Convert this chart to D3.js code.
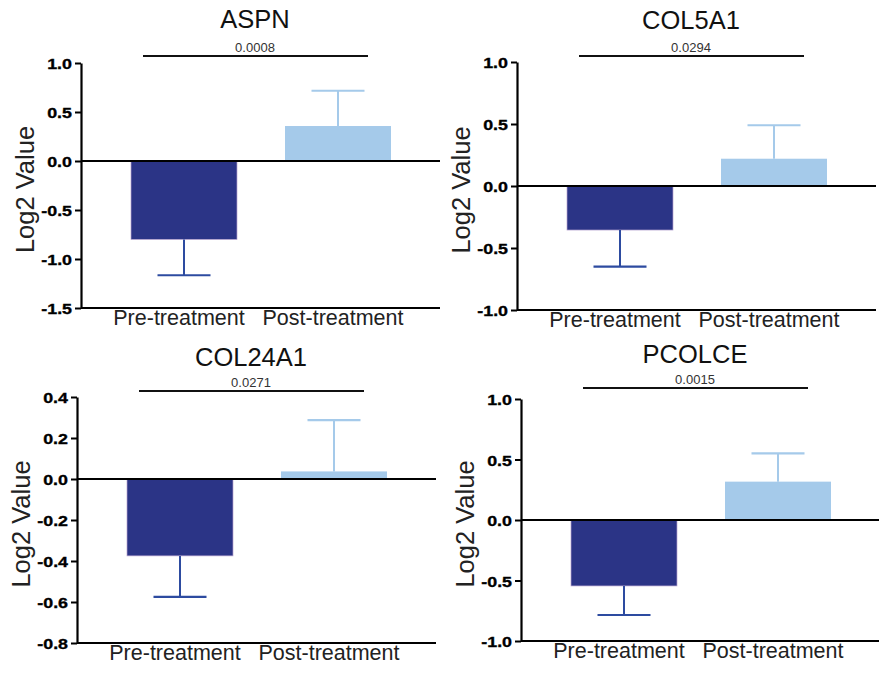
<!DOCTYPE html>
<html>
<head>
<meta charset="utf-8">
<script src="https://cdn.jsdelivr.net/npm/d3@7"></script>
<style>
  html, body { margin: 0; padding: 0; background: #fff; }
  svg { display: block; }
  text { font-family: "Liberation Sans", Arial, Helvetica, sans-serif; }
</style>
</head>
<body>
<script>
// Gene expression (log2) before and after treatment, mean with one-sided error bars
const genes = ["ASPN", "COL5A1", "COL24A1", "PCOLCE"];
const groups = ["Pre-treatment", "Post-treatment"];
const meanPre  = [-0.80, -0.355, -0.375, -0.545];
const meanPost = [0.357, 0.22, 0.037, 0.317];
const errPre   = [0.366, 0.295, 0.20, 0.24];
const errPost  = [0.36, 0.27, 0.25, 0.233];
const pValues  = ["0.0008", "0.0294", "0.0271", "0.0015"];
const yDomains = [[-1.5, 1.0], [-1.0, 1.0], [-0.8, 0.4], [-1.0, 1.0]];
const yTicks = [
  [-1.5, -1.0, -0.5, 0.0, 0.5, 1.0],
  [-1.0, -0.5, 0.0, 0.5, 1.0],
  [-0.8, -0.6, -0.4, -0.2, 0.0, 0.2, 0.4],
  [-1.0, -0.5, 0.0, 0.5, 1.0]
];

// Panel placement: y-axis x, top/bottom of value range, title baseline, bracket y
const layout = [
  { x0: 81,  top: 63,  bottom: 308, titleY: 28,  sigY: 56 },
  { x0: 517, top: 62,  bottom: 310, titleY: 29,  sigY: 56 },
  { x0: 77,  top: 397, bottom: 643, titleY: 366, sigY: 391 },
  { x0: 521, top: 399, bottom: 641, titleY: 363, sigY: 388 }
];

const fillColors = ["#2B3486", "#A5CAEA"];
const errColors  = ["#2D4BA0", "#A5CAEA"];

const fmt = d3.formatLocale({ decimal: ".", thousands: ",", grouping: [3], currency: ["", ""], minus: "-" }).format(".1f");

const svg = d3.select("body").append("svg")
  .attr("width", 879).attr("height", 673);

genes.forEach((gene, i) => {
  const L = layout[i];
  const g = svg.append("g");
  const y = d3.scaleLinear().domain(yDomains[i]).range([L.bottom, L.top]);
  const x = d3.scaleBand().domain(groups)
    .range([L.x0 + 50, L.x0 + 310]).paddingInner(48 / 154).paddingOuter(0);
  const right = L.x0 + 359;

  const rows = groups.map((grp, k) => ({
    grp,
    mean: k === 0 ? meanPre[i] : meanPost[i],
    err: k === 0 ? errPre[i] : errPost[i],
    k
  }));

  // bars
  g.selectAll("rect.bar").data(rows).join("rect")
    .attr("class", "bar")
    .attr("x", d => x(d.grp))
    .attr("width", x.bandwidth())
    .attr("y", d => Math.min(y(d.mean), y(0)))
    .attr("height", d => Math.abs(y(d.mean) - y(0)))
    .attr("fill", d => fillColors[d.k])
    .attr("stroke", d => d.k === 0 ? "#b7a3cf" : "none")
    .attr("stroke-width", 0.7);

  // error bars (away from zero)
  rows.forEach(d => {
    const cx = x(d.grp) + x.bandwidth() / 2;
    const tip = d.mean < 0 ? d.mean - d.err : d.mean + d.err;
    g.append("line")
      .attr("x1", cx).attr("x2", cx)
      .attr("y1", y(d.mean)).attr("y2", y(tip))
      .attr("stroke", errColors[d.k]).attr("stroke-width", 2);
    g.append("line")
      .attr("x1", cx - 26.5).attr("x2", cx + 26.5)
      .attr("y1", y(tip)).attr("y2", y(tip))
      .attr("stroke", errColors[d.k]).attr("stroke-width", 2.2);
  });

  // zero line
  g.append("line")
    .attr("x1", L.x0).attr("x2", right)
    .attr("y1", y(0)).attr("y2", y(0))
    .attr("stroke", "#000").attr("stroke-width", 2);

  // bottom axis line
  g.append("line")
    .attr("x1", L.x0).attr("x2", right)
    .attr("y1", y(yDomains[i][0])).attr("y2", y(yDomains[i][0]))
    .attr("stroke", "#000").attr("stroke-width", 2.2);

  // y axis
  const ax = g.append("g")
    .attr("transform", `translate(${L.x0},0)`)
    .call(d3.axisLeft(y).tickValues(yTicks[i]).tickFormat(fmt)
      .tickSize(6).tickSizeOuter(0).tickPadding(3));
  ax.attr("font-size", null).attr("font-family", null);
  ax.select(".domain").attr("stroke", "#000").attr("stroke-width", 2.2);
  ax.selectAll(".tick line").attr("stroke", "#000").attr("stroke-width", 2);
  ax.selectAll(".tick text")
    .attr("fill", "#000")
    .attr("stroke", "#000")
    .attr("stroke-width", 0.35)
    .attr("font-size", 15.5)
    .attr("font-weight", "bold")
    .attr("dy", "0.36em")
    .each(function () {
      const w = this.getComputedTextLength();
      d3.select(this).attr("textLength", w * 1.15).attr("lengthAdjust", "spacingAndGlyphs");
    });

  // category labels
  g.selectAll("text.cat").data(rows).join("text")
    .attr("class", "cat")
    .attr("x", d => x(d.grp) + x.bandwidth() / 2 - 5)
    .attr("y", L.bottom + 17)
    .attr("text-anchor", "middle")
    .attr("fill", "#222")
    .attr("font-size", 21.5)
    .text(d => d.grp);

  // y axis title
  g.append("text")
    .attr("transform", `translate(${L.x0 - 47},${(L.top + L.bottom) / 2 + 4}) rotate(-90)`)
    .attr("text-anchor", "middle")
    .attr("fill", "#222")
    .attr("font-size", 25.5)
    .text("Log2 Value");

  // panel title
  const cxPre = x(groups[0]) + x.bandwidth() / 2;
  const cxPost = x(groups[1]) + x.bandwidth() / 2;
  g.append("text")
    .attr("x", (cxPre + cxPost) / 2 - 6)
    .attr("y", L.titleY)
    .attr("text-anchor", "middle")
    .attr("fill", "#111")
    .attr("font-size", 25.5)
    .text(gene);

  // significance bracket and p-value
  g.append("line")
    .attr("x1", L.x0 + 62).attr("x2", L.x0 + 287)
    .attr("y1", L.sigY).attr("y2", L.sigY)
    .attr("stroke", "#111").attr("stroke-width", 2);
  g.append("text")
    .attr("x", L.x0 + 174)
    .attr("y", L.sigY - 4)
    .attr("text-anchor", "middle")
    .attr("fill", "#333")
    .attr("font-size", 13)
    .text(pValues[i]);
});
</script>
</body>
</html>
